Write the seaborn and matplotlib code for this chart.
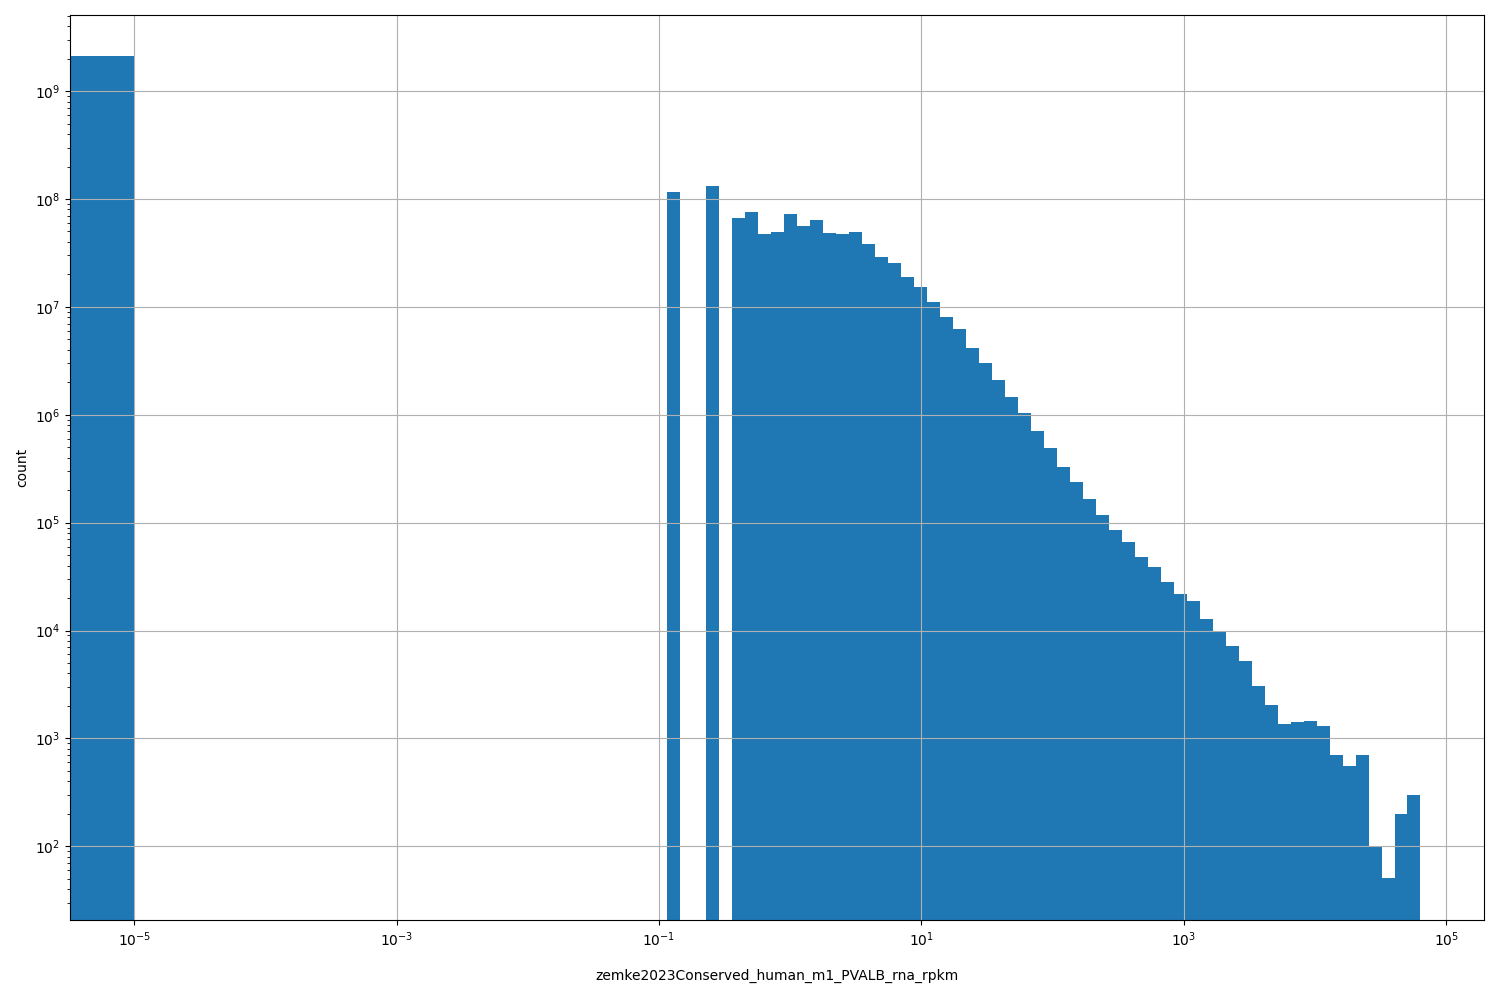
import numpy as np
import pandas as pd
import matplotlib
matplotlib.use("Agg")
import matplotlib.pyplot as plt
import seaborn as sns

# %%
# histogram counts (log-log histogram of rpkm values)
column_name = "zemke2023Conserved_human_m1_PVALB_rna_rpkm"

zero_bin_edges = [0.0, 1e-5]  # zeros / tiny values
zero_bin_count = 2.11e9

# log-spaced bins, 58 bins from 10^-0.941 to 10^4.804
log_bin_lo, log_bin_hi, n_log_bins = -0.941, 4.804, 58
log_bin_counts = [
    1.17e8, 0, 0, 1.33e8, 0,
    6.7e7, 7.5e7, 4.77e7, 4.98e7, 7.3e7,
    5.65e7, 6.4e7, 4.87e7, 4.77e7, 4.98e7,
    3.85e7, 2.92e7, 2.57e7, 1.9e7, 1.54e7,
    1.12e7, 8.1e6, 6.2e6, 4.2e6, 3.05e6,
    2.08e6, 1.45e6, 1.03e6, 7.0e5, 4.87e5,
    3.3e5, 2.36e5, 1.64e5, 1.19e5, 8.5e4,
    6.6e4, 4.8e4, 3.9e4, 2.8e4, 2.2e4,
    1.87e4, 1.27e4, 9.9e3, 7.2e3, 5.2e3,
    3.05e3, 2.04e3, 1.36e3, 1.42e3, 1.45e3,
    1.3e3, 700, 555, 700, 100,
    51, 199, 299,
]
x_ticks = [1e-5, 1e-3, 1e-1, 1e1, 1e3, 1e5]

# %%
log_edges = np.logspace(log_bin_lo, log_bin_hi, n_log_bins + 1)
# bins as a plain list (seaborn compares bins to "auto" when weights are used)
edges = list(zero_bin_edges) + log_edges.tolist()

# one weighted point per bin, sitting inside its bin
centers = [5e-6] + list(np.sqrt(log_edges[:-1] * log_edges[1:]))
weights = [zero_bin_count] + list(log_bin_counts)
df = pd.DataFrame({"value": centers, "n": weights})
df = df[df["n"] > 0]

# %%
fig, ax = plt.subplots(figsize=(15, 10), dpi=100)
sns.histplot(
    data=df,
    x="value",
    weights="n",
    bins=edges,
    log_scale=(False, True),
    color="#1f77b4",
    alpha=1,
    edgecolor="none",
    linewidth=0,
    ax=ax,
)
# seaborn masks non-positive values on log axes; clip instead so bars starting at 0 show
ax.set_xscale("log", nonpositive="clip")
ax.set_yscale("log", nonpositive="clip")
ax.set_xticks(x_ticks)
ax.set_xlim(10 ** -5.492, 10 ** 5.290)
ax.set_ylim(10 ** 1.314, 10 ** 9.703)
ax.grid(True)
ax.set_xlabel(column_name, labelpad=14.5)
ax.set_ylabel("count")
plt.subplots_adjust(left=0.0465, right=0.9895, top=0.9847, bottom=0.0797)
plt.savefig("out.png")
